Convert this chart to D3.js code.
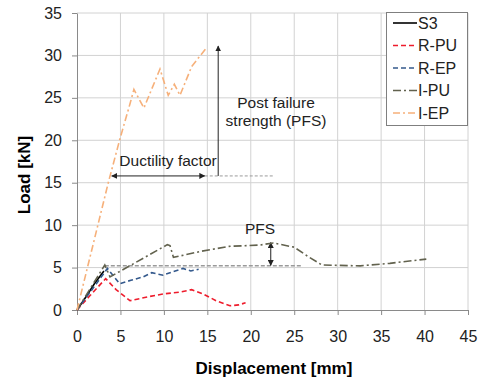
<!DOCTYPE html>
<html>
<head>
<meta charset="utf-8">
<script src="https://cdn.jsdelivr.net/npm/d3@7"></script>
<style>
  body { margin: 0; background: #fff; }
  svg { font-family: "Liberation Sans", Arial, sans-serif; }
</style>
</head>
<body>
<div id="chart"></div>
<script>
// series: [displacement mm, load kN]
var s3 = [[0, 0], [1, 1.5], [2, 3.1], [3.1, 4.6]];
var rPU = [[0, 0], [1.5, 1.7], [3.3, 3.7], [4.5, 2.4], [6.1, 1.1], [8.4, 1.6], [10, 1.9], [11.8, 2.1], [13.2, 2.4], [14.5, 1.9], [16, 1.1], [17.6, 0.5], [18.6, 0.6], [19.4, 0.85]];
var rEP = [[0, 0], [1.8, 2.5], [3.5, 4.9], [4.2, 4.0], [4.9, 3.1], [6.2, 3.5], [7.6, 3.9], [8.6, 4.4], [9.9, 4.1], [11, 4.5], [12.2, 4.9], [13.1, 4.6], [14, 4.8]];
var iPU = [[0, 0], [3.2, 5.3], [3.8, 3.9], [10.4, 7.7], [10.7, 7.6], [11.1, 6.2], [14.2, 6.9], [17.5, 7.5], [21, 7.65], [22.6, 7.9], [25, 7.4], [26.6, 6.3], [28.2, 5.3], [32.6, 5.2], [36, 5.5], [40.2, 6.0]];
var iEP = [[0, 0], [3.6, 15], [4.95, 20.2], [6.1, 24.3], [6.55, 26], [7.7, 23.8], [9.55, 28.4], [10.5, 25.3], [11.2, 26.6], [11.85, 25.3], [13.2, 28.7], [14.9, 30.9]];

var seriesNames = ["S3", "R-PU", "R-EP", "I-PU", "I-EP"];
var seriesData = [s3, rPU, rEP, iPU, iEP];
var seriesColors = ["#000000", "#ee1c2c", "#34598c", "#62624e", "#f6b07a"];
var seriesDash = [null, "5,3", "5,3", "8,3,2,3", "7,3,2,3"];

var xTicks = [0, 5, 10, 15, 20, 25, 30, 35, 40, 45];
var yTicks = [0, 5, 10, 15, 20, 25, 30, 35];

var W = 479, H = 383;
var margin = { left: 77, right: 11, top: 13, bottom: 73 };

var svg = d3.select("#chart").append("svg")
    .attr("width", W)
    .attr("height", H);

var x = d3.scaleLinear().domain([0, 45]).range([margin.left, W - margin.right]);
var y = d3.scaleLinear().domain([0, 35]).range([H - margin.bottom, margin.top]);

// grid
var grid = svg.append("g").attr("stroke", "#d2d2d2").attr("stroke-width", 1);
grid.selectAll(".gx").data(xTicks.slice(1)).enter().append("line")
    .attr("x1", d => x(d)).attr("x2", d => x(d))
    .attr("y1", y(0)).attr("y2", y(35));
grid.selectAll(".gy").data(yTicks.slice(1)).enter().append("line")
    .attr("x1", x(0)).attr("x2", x(45))
    .attr("y1", d => y(d)).attr("y2", d => y(d));

// axes
var xAxis = svg.append("g")
    .attr("transform", "translate(0," + y(0) + ")")
    .call(d3.axisBottom(x).tickValues(xTicks).tickSize(5).tickPadding(16).tickSizeOuter(0));
var yAxis = svg.append("g")
    .attr("transform", "translate(" + x(0) + ",0)")
    .call(d3.axisLeft(y).tickValues(yTicks).tickSize(5).tickPadding(10).tickSizeOuter(0));
[xAxis, yAxis].forEach(a => {
    a.selectAll("path, line").attr("stroke", "#8a8a8a");
    a.selectAll("text").attr("fill", "#222").style("font-size", "16px").style("font-family", "Liberation Sans, Arial, sans-serif");
});
xAxis.selectAll("text").attr("dy", "0.71em");

// axis titles
svg.append("text")
    .attr("x", 274).attr("y", 374)
    .attr("text-anchor", "middle")
    .style("font-size", "17px").style("font-weight", "bold")
    .text("Displacement [mm]");
svg.append("text")
    .attr("transform", "translate(30,175) rotate(-90)")
    .attr("text-anchor", "middle")
    .style("font-size", "17px").style("font-weight", "bold")
    .text("Load [kN]");

// markers for arrows
var defs = svg.append("defs");
defs.append("marker")
    .attr("id", "ah")
    .attr("viewBox", "0 0 10 10")
    .attr("refX", 9).attr("refY", 5)
    .attr("markerWidth", 6).attr("markerHeight", 6)
    .attr("markerUnits", "userSpaceOnUse")
    .attr("orient", "auto-start-reverse")
    .append("path").attr("d", "M0,0L10,5L0,10z").attr("fill", "#222");

// reference dashed lines
var ann = svg.append("g");
ann.append("line")
    .attr("x1", x(14.7)).attr("x2", x(22.6))
    .attr("y1", y(15.8)).attr("y2", y(15.8))
    .attr("stroke", "#9a9a9a").attr("stroke-dasharray", "3,2");
ann.append("line")
    .attr("x1", x(3.2)).attr("x2", x(25.9))
    .attr("y1", y(5.2)).attr("y2", y(5.2))
    .attr("stroke", "#9a9a9a").attr("stroke-width", 1.5).attr("stroke-dasharray", "4,2");

// series lines
var line = d3.line().x(d => x(d[0])).y(d => y(d[1]));
svg.append("g").selectAll("path").data(seriesData).enter().append("path")
    .attr("d", line)
    .attr("fill", "none")
    .attr("stroke", (d, i) => seriesColors[i])
    .attr("stroke-width", 1.6)
    .attr("stroke-dasharray", (d, i) => seriesDash[i]);

// annotations
ann.append("line")
    .attr("x1", x(4.0)).attr("x2", x(14.7))
    .attr("y1", y(15.8)).attr("y2", y(15.8))
    .attr("stroke", "#222").attr("stroke-width", 1)
    .attr("marker-start", "url(#ah)").attr("marker-end", "url(#ah)");
ann.append("line")
    .attr("x1", x(16.25)).attr("x2", x(16.25))
    .attr("y1", y(15.8)).attr("y2", y(31.1))
    .attr("stroke", "#222").attr("stroke-width", 1)
    .attr("marker-end", "url(#ah)");
ann.append("line")
    .attr("x1", x(22.3)).attr("x2", x(22.3))
    .attr("y1", y(5.25)).attr("y2", y(7.95))
    .attr("stroke", "#222").attr("stroke-width", 1)
    .attr("marker-start", "url(#ah)").attr("marker-end", "url(#ah)");

var annText = [
    { t: "Ductility factor", x: 168, y: 166 },
    { t: "Post failure", x: 276, y: 108 },
    { t: "strength (PFS)", x: 276, y: 126 },
    { t: "PFS", x: 260, y: 234 }
];
ann.selectAll("text").data(annText).enter().append("text")
    .attr("x", d => d.x).attr("y", d => d.y)
    .attr("text-anchor", "middle")
    .attr("fill", "#222")
    .style("font-size", "15.5px")
    .text(d => d.t);

// legend
var lg = svg.append("g");
lg.append("rect")
    .attr("x", 386.5).attr("y", 12.5).attr("width", 81).attr("height", 113)
    .attr("fill", "#fff").attr("stroke", "#7f7f7f");
var items = lg.selectAll(".item").data(seriesNames).enter().append("g")
    .attr("transform", (d, i) => "translate(0," + (23 + i * 22.5) + ")");
items.append("line")
    .attr("x1", 393).attr("x2", 417)
    .attr("stroke", (d, i) => seriesColors[i])
    .attr("stroke-width", 1.6)
    .attr("stroke-dasharray", (d, i) => seriesDash[i]);
items.append("text")
    .attr("x", 418).attr("dy", "0.36em")
    .attr("fill", "#222")
    .style("font-size", "16px")
    .text(d => d);
</script>
</body>
</html>
